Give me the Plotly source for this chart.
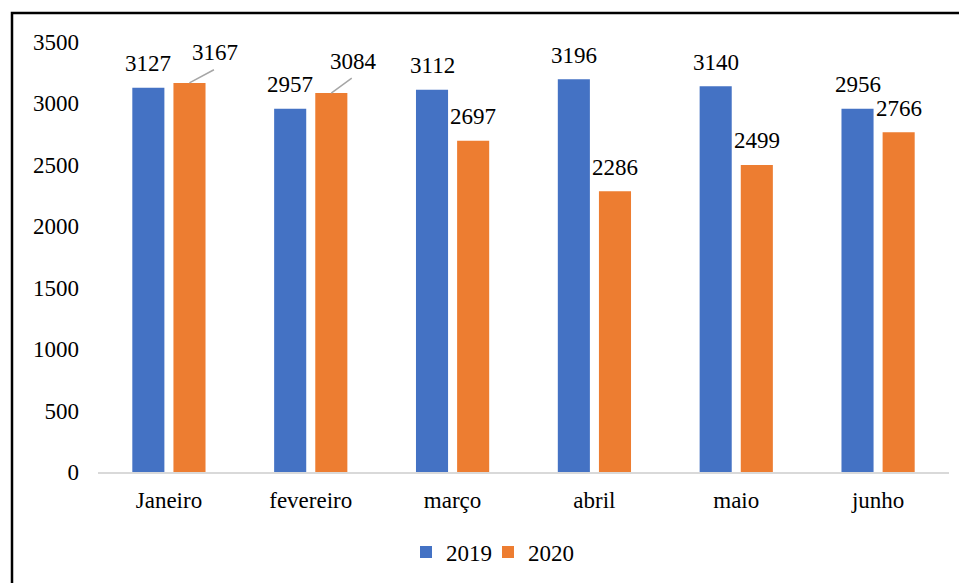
import plotly.graph_objects as go

# Monthly totals, first semester
months = ["Janeiro", "fevereiro", "março", "abril", "maio", "junho"]
vals_2019 = [3127, 2957, 3112, 3196, 3140, 2956]
vals_2020 = [3167, 3084, 2697, 2286, 2499, 2766]
y_ticks = [0, 500, 1000, 1500, 2000, 2500, 3000, 3500]

BLUE = "#4472C4"
ORANGE = "#ED7D31"
SERIF = "Liberation Serif"
FS = 23
TXT = dict(family=SERIF, size=FS, color="#000000")

# labels that sit off to the side with a leader line: month -> (dx, dy) in px
leader = {"Janeiro": (26, -14), "fevereiro": (22, -16)}

fig = go.Figure()
fig.add_trace(go.Bar(name="2019", x=months, y=vals_2019, marker_color=BLUE,
                     marker_line_width=0, legend="legend"))
fig.add_trace(go.Bar(name="2020", x=months, y=vals_2020, marker_color=ORANGE,
                     marker_line_width=0, legend="legend2"))

annotations = []
OFF = 20.5  # half distance between the two bars of a group, px
LABEL_UP = 24
for m, v in zip(months, vals_2019):
    annotations.append(dict(x=m, y=v, xref="x", yref="y", text=str(v),
                            showarrow=False, xshift=-OFF, yshift=LABEL_UP,
                            yanchor="middle", font=TXT))
for m, v in zip(months, vals_2020):
    if m in leader:
        dx, dy = leader[m]
        annotations.append(dict(x=m, y=v, xref="x", yref="y", text="",
                                showarrow=True, arrowhead=0, arrowwidth=1.5,
                                arrowcolor="#A6A6A6", ax=dx, ay=dy,
                                standoff=0, startstandoff=0, xshift=OFF))
        annotations.append(dict(x=m, y=v, xref="x", yref="y", text=str(v),
                                showarrow=False, xshift=OFF + dx,
                                yshift=-dy + 16, yanchor="middle", font=TXT))
    else:
        annotations.append(dict(x=m, y=v, xref="x", yref="y", text=str(v),
                                showarrow=False, xshift=OFF, yshift=LABEL_UP,
                                yanchor="middle", font=TXT))

PLOT_L, PLOT_W = 98, 851


def legend_at(px):
    return dict(orientation="h", x=(px - PLOT_L) / PLOT_W, xanchor="left",
                y=-0.186, yanchor="middle", font=TXT,
                bgcolor="rgba(0,0,0,0)")


fig.update_layout(
    width=959, height=583, autosize=False,
    margin=dict(l=PLOT_L, r=10, t=42, b=111),
    paper_bgcolor="white", plot_bgcolor="white",
    barmode="group", bargap=0.42, bargroupgap=0.22,
    font=TXT,
    showlegend=True,
    legend=legend_at(406),
    legend2=legend_at(488),
    annotations=annotations,
    shapes=[dict(type="rect", xref="paper", yref="paper",
                 x0=(12 - PLOT_L) / PLOT_W, x1=1.2, y0=-0.4,
                 y1=1 + (42 - 13) / 430,
                 line=dict(color="black", width=2.5), layer="above")],
)
fig.update_xaxes(showgrid=False, showline=True, linecolor="#D9D9D9",
                 linewidth=2, ticks="", ticklabelstandoff=6, tickfont=TXT)
fig.update_yaxes(range=[0, 3500], tickvals=y_ticks, showgrid=False,
                 zeroline=False, showline=False, ticks="",
                 ticklabelstandoff=18, tickfont=TXT)

fig.write_html("out.html")
